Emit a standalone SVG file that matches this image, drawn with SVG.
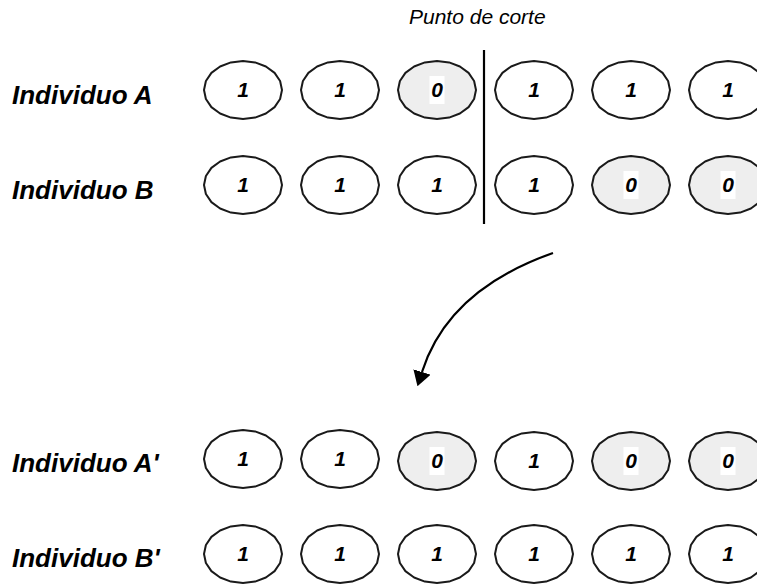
<svg xmlns="http://www.w3.org/2000/svg" xmlns:xlink="http://www.w3.org/1999/xlink" width="757" height="585" viewBox="0 0 757 585">
<style>
.lbl{font-family:"Liberation Sans",Arial,sans-serif;font-weight:bold;font-style:italic;font-size:26px;fill:#000}
.dig{font-family:"Liberation Sans",Arial,sans-serif;font-weight:bold;font-style:italic;font-size:21px;fill:#000;text-anchor:middle}
.title{font-family:"Liberation Sans",Arial,sans-serif;font-style:italic;font-size:21px;fill:#000}
.ov{fill:#fff;stroke:#1a1a1a;stroke-width:2;stroke-linejoin:round}
.ov0{fill:#eeeeee;stroke:#1a1a1a;stroke-width:2;stroke-linejoin:round}
.bg{fill:#fff}
.conn{fill:none;stroke:#000;stroke-width:2.2}
</style>
<defs>
<path id="oval" d="M39,0 L37.1,9 L31.6,17.1 L22.9,23.5 L12.1,27.6 L0,29 L-12.1,27.6 L-22.9,23.5 L-31.6,17.1 L-37.1,9 L-39,0 L-37.1,-9 L-31.6,-17.1 L-22.9,-23.5 L-12.1,-27.6 L0,-29 L12.1,-27.6 L22.9,-23.5 L31.6,-17.1 L37.1,-9 Z"/>
<marker id="ah" markerUnits="userSpaceOnUse" viewBox="0 0 15 18" refX="0" refY="9" markerWidth="15" markerHeight="18" orient="auto">
<path d="M0,0 L15,9 L0,18 Z" fill="#000"/>
</marker>
</defs>

<text id="title" class="title" x="409" y="24">Punto de corte</text>

<g id="labels">
<text class="lbl" x="12" y="104">Individuo A</text>
<text class="lbl" x="12" y="199">Individuo B</text>
<text class="lbl" x="12" y="472">Individuo A'</text>
<text class="lbl" x="12" y="567">Individuo B'</text>
</g>

<g id="rowA">
<g id="a1"><use xlink:href="#oval" class="ov" x="243" y="90"/><text class="dig" x="243" y="97">1</text></g>
<g id="a2"><use xlink:href="#oval" class="ov" x="340" y="90"/><text class="dig" x="340" y="97">1</text></g>
<g id="a3"><use xlink:href="#oval" class="ov0" x="437" y="90"/><rect class="bg" x="429.5" y="76" width="15" height="28"/><text class="dig" x="437" y="97">0</text></g>
<g id="a4"><use xlink:href="#oval" class="ov" x="534" y="90"/><text class="dig" x="534" y="97">1</text></g>
<g id="a5"><use xlink:href="#oval" class="ov" x="631" y="90"/><text class="dig" x="631" y="97">1</text></g>
<g id="a6"><use xlink:href="#oval" class="ov" x="728" y="90"/><text class="dig" x="728" y="97">1</text></g>
</g>

<g id="rowB">
<g id="b1"><use xlink:href="#oval" class="ov" x="243" y="185"/><text class="dig" x="243" y="192">1</text></g>
<g id="b2"><use xlink:href="#oval" class="ov" x="340" y="185"/><text class="dig" x="340" y="192">1</text></g>
<g id="b3"><use xlink:href="#oval" class="ov" x="437" y="185"/><text class="dig" x="437" y="192">1</text></g>
<g id="b4"><use xlink:href="#oval" class="ov" x="534" y="185"/><text class="dig" x="534" y="192">1</text></g>
<g id="b5"><use xlink:href="#oval" class="ov0" x="631" y="185"/><rect class="bg" x="623.5" y="171" width="15" height="28"/><text class="dig" x="631" y="192">0</text></g>
<g id="b6"><use xlink:href="#oval" class="ov0" x="728" y="185"/><rect class="bg" x="720.5" y="171" width="15" height="28"/><text class="dig" x="728" y="192">0</text></g>
</g>

<g id="rowA2">
<g id="c1"><use xlink:href="#oval" class="ov" x="243" y="459"/><text class="dig" x="243" y="466">1</text></g>
<g id="c2"><use xlink:href="#oval" class="ov" x="340" y="459"/><text class="dig" x="340" y="466">1</text></g>
<g id="c3"><use xlink:href="#oval" class="ov0" x="437" y="461"/><rect class="bg" x="429.5" y="447" width="15" height="28"/><text class="dig" x="437" y="468">0</text></g>
<g id="c4"><use xlink:href="#oval" class="ov" x="534" y="461"/><text class="dig" x="534" y="468">1</text></g>
<g id="c5"><use xlink:href="#oval" class="ov0" x="631" y="461"/><rect class="bg" x="623.5" y="447" width="15" height="28"/><text class="dig" x="631" y="468">0</text></g>
<g id="c6"><use xlink:href="#oval" class="ov0" x="728" y="461"/><rect class="bg" x="720.5" y="447" width="15" height="28"/><text class="dig" x="728" y="468">0</text></g>
</g>

<g id="rowB2">
<g id="d1"><use xlink:href="#oval" class="ov" x="243" y="554"/><text class="dig" x="243" y="561">1</text></g>
<g id="d2"><use xlink:href="#oval" class="ov" x="340" y="554"/><text class="dig" x="340" y="561">1</text></g>
<g id="d3"><use xlink:href="#oval" class="ov" x="437" y="554"/><text class="dig" x="437" y="561">1</text></g>
<g id="d4"><use xlink:href="#oval" class="ov" x="534" y="554"/><text class="dig" x="534" y="561">1</text></g>
<g id="d5"><use xlink:href="#oval" class="ov" x="631" y="554"/><text class="dig" x="631" y="561">1</text></g>
<g id="d6"><use xlink:href="#oval" class="ov" x="728" y="554"/><text class="dig" x="728" y="561">1</text></g>
</g>

<g id="connectors">
<line class="conn" x1="484" y1="50" x2="484" y2="224"/>
<path class="conn" d="M553,253 Q448,290 422,372" marker-end="url(#ah)"/>
</g>
</svg>
